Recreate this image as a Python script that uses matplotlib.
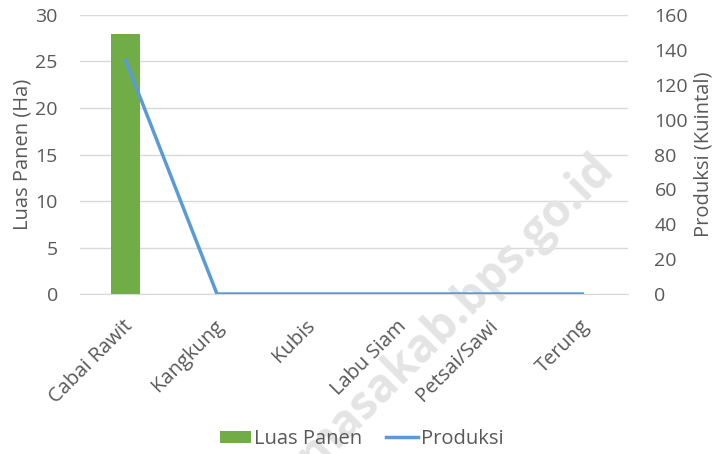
import numpy as np
import matplotlib.pyplot as plt
from matplotlib.transforms import ScaledTranslation

plt.rcParams['font.family'] = ['Open Sans', 'DejaVu Sans']

kategori = ['Cabai Rawit', 'Kangkung', 'Kubis', 'Labu Siam', 'Petsai/Sawi', 'Terung']
luas_panen = [28, 0, 0, 0, 0, 0]
produksi = [134, 0, 0, 0, 0, 0]

txt = '#595959'
fs = 14.5
fig = plt.figure(figsize=(7.19, 4.54), dpi=100)
ax = fig.add_axes([80/719, 1-294/454, 548/719, 279/454])
ax2 = ax.twinx()

# watermark (above gridlines, under the data and labels)
ax.text(455/719, 1-312/454, 'masakab.bps.go.id', fontsize=33, fontweight='bold',
        color='#e4e4e4', rotation=45, ha='center', va='center',
        transform=fig.transFigure, clip_on=False, zorder=1)

x = np.arange(len(kategori))
ax.bar(x, luas_panen, width=0.32, color='#70AD47', label='Luas Panen', zorder=2)
ax2.plot(x, produksi, color='#5B9BD5', lw=2.5, label='Produksi', zorder=3)

ax.set_xlim(-0.5, len(kategori) - 0.5)
ax.set_ylim(0, 30)
ax.set_yticks(np.arange(0, 31, 5))
ax2.set_ylim(0, 160)
ax2.set_yticks(np.arange(0, 161, 20))
ax.grid(axis='y', color='#d9d9d9', lw=1, zorder=0)
ax.set_axisbelow(True)
ax.patch.set_visible(False)

for a in (ax, ax2):
    for s in a.spines.values():
        s.set_visible(False)
    a.tick_params(length=0, labelsize=14, colors=txt)
ax.tick_params(axis='y', pad=16)
ax2.tick_params(axis='y', pad=19)
ax.spines['bottom'].set_visible(True)
ax.spines['bottom'].set_color('#d9d9d9')

ax.set_xticks(x)
ax.set_xticklabels(kategori, rotation=45, ha='right', va='center',
                   rotation_mode='anchor', fontsize=fs)
ax.tick_params(axis='x', pad=21)
off = ScaledTranslation(4/100, 0, fig.dpi_scale_trans)
for lab in ax.get_xticklabels():
    lab.set_transform(lab.get_transform() + off)

ax.set_ylabel('Luas Panen (Ha)', fontsize=fs, color=txt, labelpad=2)
ax2.set_ylabel('Produksi (Kuintal)', fontsize=fs, color=txt, labelpad=4)

h1, l1 = ax.get_legend_handles_labels()
h2, l2 = ax2.get_legend_handles_labels()
fig.legend(h1 + h2, l1 + l2, loc='center', bbox_to_anchor=(0.503, 1-439/454), ncol=2,
           frameon=False, fontsize=fs, labelcolor=txt, handlelength=1.55,
           handleheight=0.6, handletextpad=0.15, columnspacing=1.2)

plt.savefig('out.png', dpi=100)
